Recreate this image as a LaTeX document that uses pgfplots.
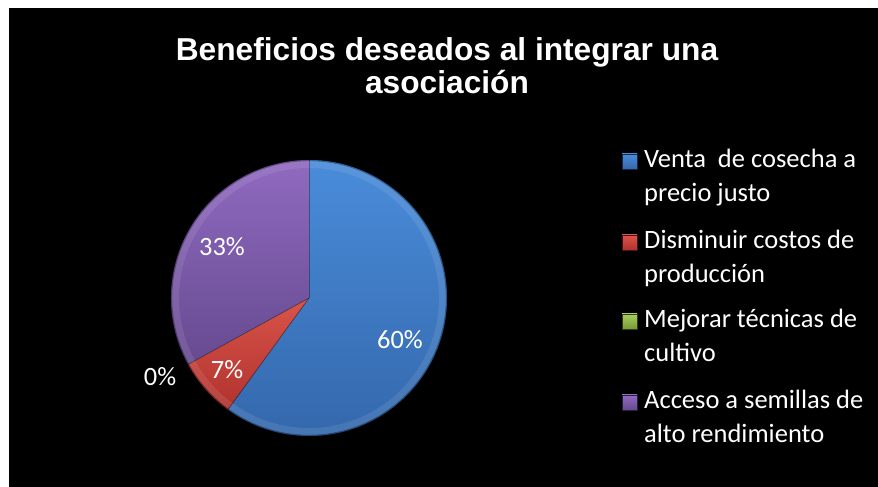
\documentclass[border=0pt]{standalone}
\usepackage{pgfplots}
\pgfplotsset{compat=1.18}
\usepackage{pgfplotstable}
\usepackage{fontspec}
\setmainfont{Carlito}
\newfontfamily\titlefont{Liberation Sans}
\definecolor{blueT}{RGB}{74,140,218}
\definecolor{blueB}{RGB}{52,104,172}
\definecolor{redT}{RGB}{218,84,74}
\definecolor{redB}{RGB}{176,50,46}
\definecolor{greenT}{RGB}{170,205,95}
\definecolor{greenB}{RGB}{118,155,52}
\definecolor{purpT}{RGB}{144,106,192}
\definecolor{purpB}{RGB}{102,74,144}

\pgfplotstableread{
label value
A 60
B 7
C 0
D 33
}\piedata

\begin{document}
\begin{tikzpicture}
\pgfplotstablegetelem{0}{value}\of\piedata\edef\vA{\pgfplotsretval}
\pgfplotstablegetelem{1}{value}\of\piedata\edef\vB{\pgfplotsretval}
\pgfplotstablegetelem{2}{value}\of\piedata\edef\vC{\pgfplotsretval}
\pgfplotstablegetelem{3}{value}\of\piedata\edef\vD{\pgfplotsretval}
\pgfmathsetmacro\aA{90}
\pgfmathsetmacro\aB{\aA-3.6*\vA}
\pgfmathsetmacro\aC{\aB-3.6*\vB}
\pgfmathsetmacro\aD{\aC-3.6*\vC}
\pgfmathsetmacro\aE{\aD-3.6*\vD}
\def\R{138bp}
\begin{axis}[
  width=878bp, height=487bp, scale only axis,
  xmin=0, xmax=878, ymin=0, ymax=487,
  hide axis, clip=false,
]
% background
\fill[white] (axis cs:0,0) rectangle (axis cs:878,487);
\fill[black] (axis cs:9,0) rectangle (axis cs:878,479);
% title
\node[anchor=base, text=white, font=\titlefont\bfseries\fontsize{31.8}{32}\selectfont] at (axis cs:447,426) {Beneficios deseados al integrar una};
\node[anchor=base, text=white, font=\titlefont\bfseries\fontsize{31.8}{32}\selectfont] at (axis cs:447,393) {asociación};
% pie slices from data
\shade[top color=blueT, bottom color=blueB] (axis cs:309,189) -- ++(\aA:\R) arc[start angle=\aA, end angle=\aB, radius=\R] -- cycle;
\shade[top color=redT, bottom color=redB] (axis cs:309,189) -- ++(\aB:\R) arc[start angle=\aB, end angle=\aC, radius=\R] -- cycle;
\fill[greenT] (axis cs:309,189) -- ++(\aC:\R) arc[start angle=\aC, end angle=\aD, radius=\R] -- cycle;
\shade[top color=purpT, bottom color=purpB] (axis cs:309,189) -- ++(\aD:\R) arc[start angle=\aD, end angle=\aE, radius=\R] -- cycle;
% bevel rim
\draw[white, opacity=0.09, line width=7bp] (axis cs:309,189) circle[radius=133.5bp];
\draw[black, opacity=0.3, line width=1.2bp] (axis cs:309,189) circle[radius=137.4bp];
\draw[black, opacity=0.35, line width=0.8bp] (axis cs:309,189) -- ++(\aA:\R);
\draw[black, opacity=0.35, line width=0.8bp] (axis cs:309,189) -- ++(\aB:\R);
\draw[black, opacity=0.35, line width=0.8bp] (axis cs:309,189) -- ++(\aC:\R);
% data labels
\node[text=white, font=\fontsize{26.5}{28}\selectfont] at (axis cs:400,147) {\vA\%};
\node[text=white, font=\fontsize{26.5}{28}\selectfont] at (axis cs:227,117) {\vB\%};
\node[text=white, font=\fontsize{26.5}{28}\selectfont] at (axis cs:160,110) {\vC\%};
\node[text=white, font=\fontsize{26.5}{28}\selectfont] at (axis cs:222,240) {\vD\%};
% legend
\shade[top color=blueT, bottom color=blueB, draw=black!60!blueB] (axis cs:622,318) rectangle (axis cs:637,333);
\shade[top color=redT, bottom color=redB, draw=black!60!redB] (axis cs:622,237) rectangle (axis cs:637,252);
\shade[top color=greenT, bottom color=greenB, draw=black!60!greenB] (axis cs:622,158) rectangle (axis cs:637,173);
\shade[top color=purpT, bottom color=purpB, draw=black!60!purpB] (axis cs:622,77) rectangle (axis cs:637,92);
\node[anchor=base west, inner sep=0pt, text=white, font=\fontsize{26.6}{28}\selectfont] at (axis cs:644,319) {Venta\ \ de cosecha a};
\node[anchor=base west, inner sep=0pt, text=white, font=\fontsize{26.6}{28}\selectfont] at (axis cs:644,285.5) {precio justo};
\node[anchor=base west, inner sep=0pt, text=white, font=\fontsize{26.6}{28}\selectfont] at (axis cs:644,238) {Disminuir costos de};
\node[anchor=base west, inner sep=0pt, text=white, font=\fontsize{26.6}{28}\selectfont] at (axis cs:644,204.5) {producción};
\node[anchor=base west, inner sep=0pt, text=white, font=\fontsize{26.6}{28}\selectfont] at (axis cs:644,159) {Mejorar técnicas de};
\node[anchor=base west, inner sep=0pt, text=white, font=\fontsize{26.6}{28}\selectfont] at (axis cs:644,125.5) {cultivo};
\node[anchor=base west, inner sep=0pt, text=white, font=\fontsize{26.6}{28}\selectfont] at (axis cs:644,78) {Acceso a semillas de};
\node[anchor=base west, inner sep=0pt, text=white, font=\fontsize{26.6}{28}\selectfont] at (axis cs:644,44.5) {alto rendimiento};
\end{axis}
\end{tikzpicture}
\end{document}
